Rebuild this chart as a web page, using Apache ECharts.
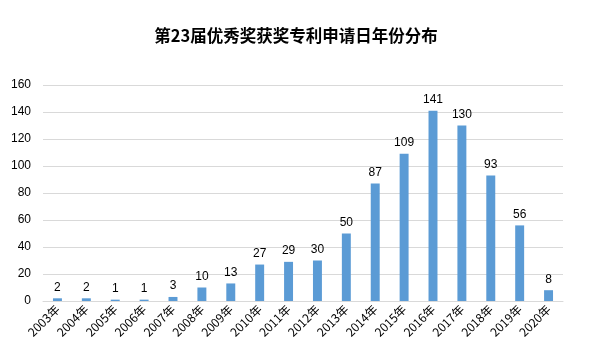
<!DOCTYPE html>
<html><head><meta charset="utf-8">
<script src="https://cdn.jsdelivr.net/npm/echarts@6/dist/echarts.min.js"></script>
<style>html,body{margin:0;padding:0;background:#fff}#c{width:592px;height:363px}</style>
</head><body><div id="c"></div>
<script>
const categories = ['2003年','2004年','2005年','2006年','2007年','2008年','2009年','2010年','2011年','2012年','2013年','2014年','2015年','2016年','2017年','2018年','2019年','2020年'];
const values = [2,2,1,1,3,10,13,27,29,30,50,87,109,141,130,93,56,8];
const yTicks = [0,20,40,60,80,100,120,140,160];
const titleText = '第23届优秀奖获奖专利申请日年份分布';

const chart = echarts.init(document.getElementById('c'));
chart.setOption({
  animation:false,
  title:{text:titleText,left:'center',top:22,textStyle:{fontSize:16.5,fontWeight:'bold',color:'#000',fontFamily:'"Noto Sans CJK SC", sans-serif'}},
  grid:{left:43,right:29,top:85,bottom:62,containLabel:false},
  xAxis:{type:'category',data:categories,
    axisLine:{lineStyle:{color:'#d9d9d9'}},axisTick:{show:false},
    axisLabel:{rotate:45,interval:0,fontSize:12,color:'#000',margin:6,fontFamily:'"Noto Sans CJK SC", sans-serif'}},
  yAxis:{type:'value',min:yTicks[0],max:yTicks[yTicks.length-1],interval:20,
    axisLine:{show:false},axisTick:{show:false},
    splitLine:{lineStyle:{color:'#d9d9d9'}},
    axisLabel:{fontSize:12,color:'#000',margin:12,fontFamily:'"Liberation Sans", sans-serif'}},
  series:[{type:'bar',data:values,barWidth:'31%',itemStyle:{color:'#5B9BD5'},
    label:{show:true,position:'top',fontSize:12,color:'#000',distance:5,fontFamily:'"Liberation Sans", sans-serif'}}]
});
</script></body></html>
